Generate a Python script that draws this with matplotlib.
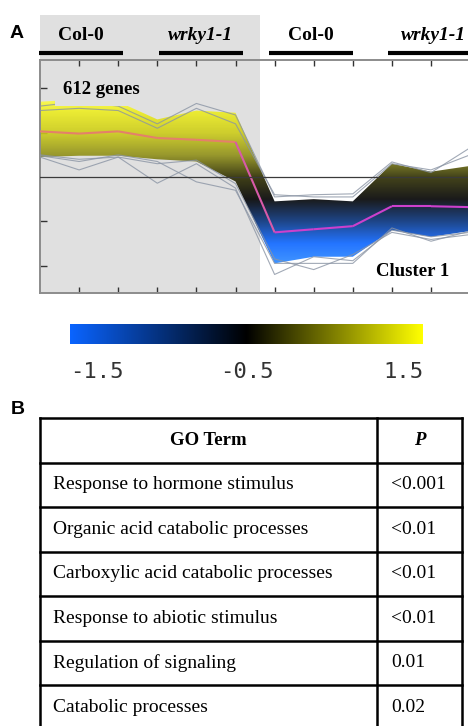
import numpy as np
import matplotlib.pyplot as plt
from matplotlib.collections import LineCollection
from matplotlib.colors import LinearSegmentedColormap, Normalize, TwoSlopeNorm
from matplotlib.patches import Polygon, Rectangle

W, H = 468, 726
SERIF = ['Liberation Serif', 'DejaVu Serif']
SANS = ['Liberation Sans', 'DejaVu Sans']

# --- cluster profiles (12 time points, log ratio) ---
timepoints = np.arange(12)
groups = ['Col-0', 'wrky1-1', 'Col-0', 'wrky1-1']
group_italic = [False, True, False, True]
mean_profile = [1.03, 0.98, 1.03, 0.88, 0.84, 0.79, -1.25, -1.18, -1.11, -0.66, -0.66, -0.68]
band_upper = [1.70, 1.75, 1.70, 1.30, 1.50, 1.45, -0.55, -0.50, -0.55, 0.30, 0.12, 0.25]
band_lower = [0.45, 0.48, 0.48, 0.40, 0.35, -0.10, -1.95, -1.80, -1.80, -1.20, -1.35, -1.22]
outlier_profiles = [
    [0.45, 0.16, 0.45, 0.30, 0.38, -0.15, -1.85, -2.09, -1.75, -1.25, -1.41, -1.30],
    [0.50, 0.40, 0.45, -0.14, 0.30, -0.25, -2.20, -1.80, -1.89, -1.20, -1.35, -1.25],
    [0.48, 0.35, 0.50, 0.35, -0.11, -0.30, -1.95, -1.95, -1.95, -1.15, -1.45, -1.22],
    [1.60, 1.70, 1.60, 1.20, 1.66, 1.40, -0.45, -0.40, -0.38, 0.34, 0.10, 0.66],
    [1.50, 1.55, 1.50, 1.10, 1.55, 1.20, -0.40, -0.45, -0.45, 0.30, 0.16, 0.50],
]
n_genes = 612

# colour scale
scale_ticks = [-1.5, -0.5, 1.5]

# --- GO enrichment table ---
go_terms = ['Response to hormone stimulus',
            'Organic acid catabolic processes',
            'Carboxylic acid catabolic processes',
            'Response to abiotic stimulus',
            'Regulation of signaling',
            'Catabolic processes']
p_values = ['<0.001', '<0.01', '<0.01', '<0.01', '0.01', '0.02']

fig = plt.figure(figsize=(W / 100, H / 100), dpi=100)

# overlay in pixel coords for panel letters, shading and the table
ov = fig.add_axes([0, 0, 1, 1], zorder=-1)
ov.set_xlim(0, W)
ov.set_ylim(H, 0)
ov.axis('off')
ov.add_patch(Rectangle((40, 15), 220, 278, facecolor='#e0e0e0', edgecolor='none'))
ov.text(10, 33, 'A', fontsize=14, fontweight='bold', family=SANS, va='center')
ov.text(11, 410, 'B', fontsize=14, fontweight='bold', family=SANS, va='center')

# --- panel A ---
PX_X, PX_Y = 39.1, 44.3
def px2x(px):
    return (px - 40) / PX_X
def py2y(py):
    return (177 - py) / PX_Y

xmax = 11.3
ylo, yhi = py2y(293), py2y(60)
ax = fig.add_axes([40 / W, 1 - 293 / H, xmax * PX_X / W, 233 / H])
ax.set_facecolor('none')

band_vals = [-2.2, -1.5, -1.0, -0.5, 0.0, 0.5, 1.0, 1.5, 1.8]
band_cols = ['#3c9cff', '#0a64ff', '#04307a', '#000000', '#2e2e00', '#909018',
             '#cccc18', '#eeee20', '#ffff50']
band_norm = Normalize(band_vals[0], band_vals[-1])
band_cmap = LinearSegmentedColormap.from_list(
    'band', list(zip([band_norm(v) for v in band_vals], band_cols)))

verts = np.vstack([np.column_stack([timepoints, band_upper]),
                   np.column_stack([timepoints[::-1], band_lower[::-1]])])
poly = Polygon(verts, closed=True, facecolor='none', edgecolor='none')
ax.add_patch(poly)
grad = np.linspace(ylo, yhi, 500).reshape(-1, 1)
im = ax.imshow(grad, extent=(0, xmax, ylo, yhi), origin='lower', aspect='auto',
               cmap=band_cmap, norm=band_norm, alpha=0.9, zorder=2)
im.set_clip_path(poly)

for prof in outlier_profiles:
    ax.plot(timepoints, prof, color='#8a94a4', lw=0.8, alpha=0.8, zorder=3)

# mean profile: shows salmon over the yellow genes, magenta over the blue ones
pts = np.column_stack([timepoints, mean_profile])
segs = np.stack([pts[:-1], pts[1:]], axis=1)
seg_cols = ['#e4806a'] * 5 + ['#d85aa8'] + ['#cc40cc'] * 5
ax.add_collection(LineCollection(segs, colors=seg_cols, linewidths=1.5, zorder=4))
ax.axhline(0, color='#3a3a3a', lw=0.9, zorder=6)

ax.set_xlim(0, xmax)
ax.set_ylim(ylo, yhi)
ax.set_xticks(range(1, 11))
ax.set_yticks([-2, -1, 1, 2])
ax.tick_params(axis='x', direction='in', top=True, bottom=True, length=4,
               width=1, color='#333333', labelbottom=False)
ax.tick_params(axis='y', direction='in', length=5, width=1, color='#333333',
               labelleft=False)
for side in ['left', 'top', 'bottom']:
    ax.spines[side].set_color('#8c8c8c')
    ax.spines[side].set_linewidth(1.4)
ax.spines['right'].set_visible(False)

# genotype bars above the plot
group_spans = [(-0.03, 2.12), (3.04, 5.18), (5.86, 8.0), (8.9, 11.6)]
for name, ital, (a, b) in zip(groups, group_italic, group_spans):
    ax.plot([a, b], [py2y(53)] * 2, color='black', lw=3, solid_capstyle='butt',
            clip_on=False)
    ax.text((a + min(b, 11.22)) / 2, py2y(35), name, family=SERIF, fontsize=14,
            fontweight='bold', style='italic' if ital else 'normal',
            ha='center', va='center', clip_on=False)

ax.text(px2x(63), py2y(89), '%d genes' % n_genes, family=SERIF, fontsize=13.5,
        fontweight='bold', ha='left', va='center', zorder=8,
        bbox=dict(boxstyle='square,pad=0.45', facecolor='#e0e0e0', edgecolor='none'))
ax.text(px2x(413), py2y(271), 'Cluster 1', family=SERIF, fontsize=13.5,
        fontweight='bold', ha='center', va='center', zorder=8)

# colour bar
cb_norm = TwoSlopeNorm(vcenter=scale_ticks[1], vmin=scale_ticks[0], vmax=scale_ticks[2])
cb_cmap = LinearSegmentedColormap.from_list('cb', ['#0a64ff', '#000000', '#ffff00'])
cax = fig.add_axes([70 / W, 1 - 344 / H, 353 / W, 20 / H])
cax.imshow(np.linspace(0, 1, 256).reshape(1, -1), aspect='auto', cmap=cb_cmap,
           extent=(0, 1, 0, 1))
cax.set_xlim(0, 1)
cax.axis('off')
for v, ha in zip(scale_ticks, ['left', 'center', 'right']):
    cax.text(float(cb_norm(v)), -1.4, '%.1f' % v, family='DejaVu Sans Mono',
             fontsize=16, color='#333333', ha=ha, va='center')

# --- panel B: GO term table ---
row_h = 44.5
top = 418
x_l, x_m, x_r = 40, 377, 462
n_rows = len(go_terms) + 1
for k in range(n_rows + 1):
    y = top + k * row_h
    ov.plot([x_l, x_r], [y, y], color='black', lw=1.8, solid_capstyle='projecting')
for x in (x_l, x_m, x_r):
    ov.plot([x, x], [top, top + n_rows * row_h], color='black', lw=1.8)

ov.text((x_l + x_m) / 2, top + row_h / 2, 'GO Term', family=SERIF, fontsize=13.5,
        fontweight='bold', ha='center', va='center')
ov.text((x_m + x_r) / 2, top + row_h / 2, 'P', family=SERIF, fontsize=13.5,
        fontweight='bold', style='italic', ha='center', va='center')
for i, (term, p) in enumerate(zip(go_terms, p_values)):
    yc = top + (i + 1.5) * row_h
    ov.text(53, yc, term, family=SERIF, fontsize=14, ha='left', va='center')
    ov.text(391, yc, p, family=SERIF, fontsize=14, ha='left', va='center')

fig.savefig('out.png', dpi=100)
